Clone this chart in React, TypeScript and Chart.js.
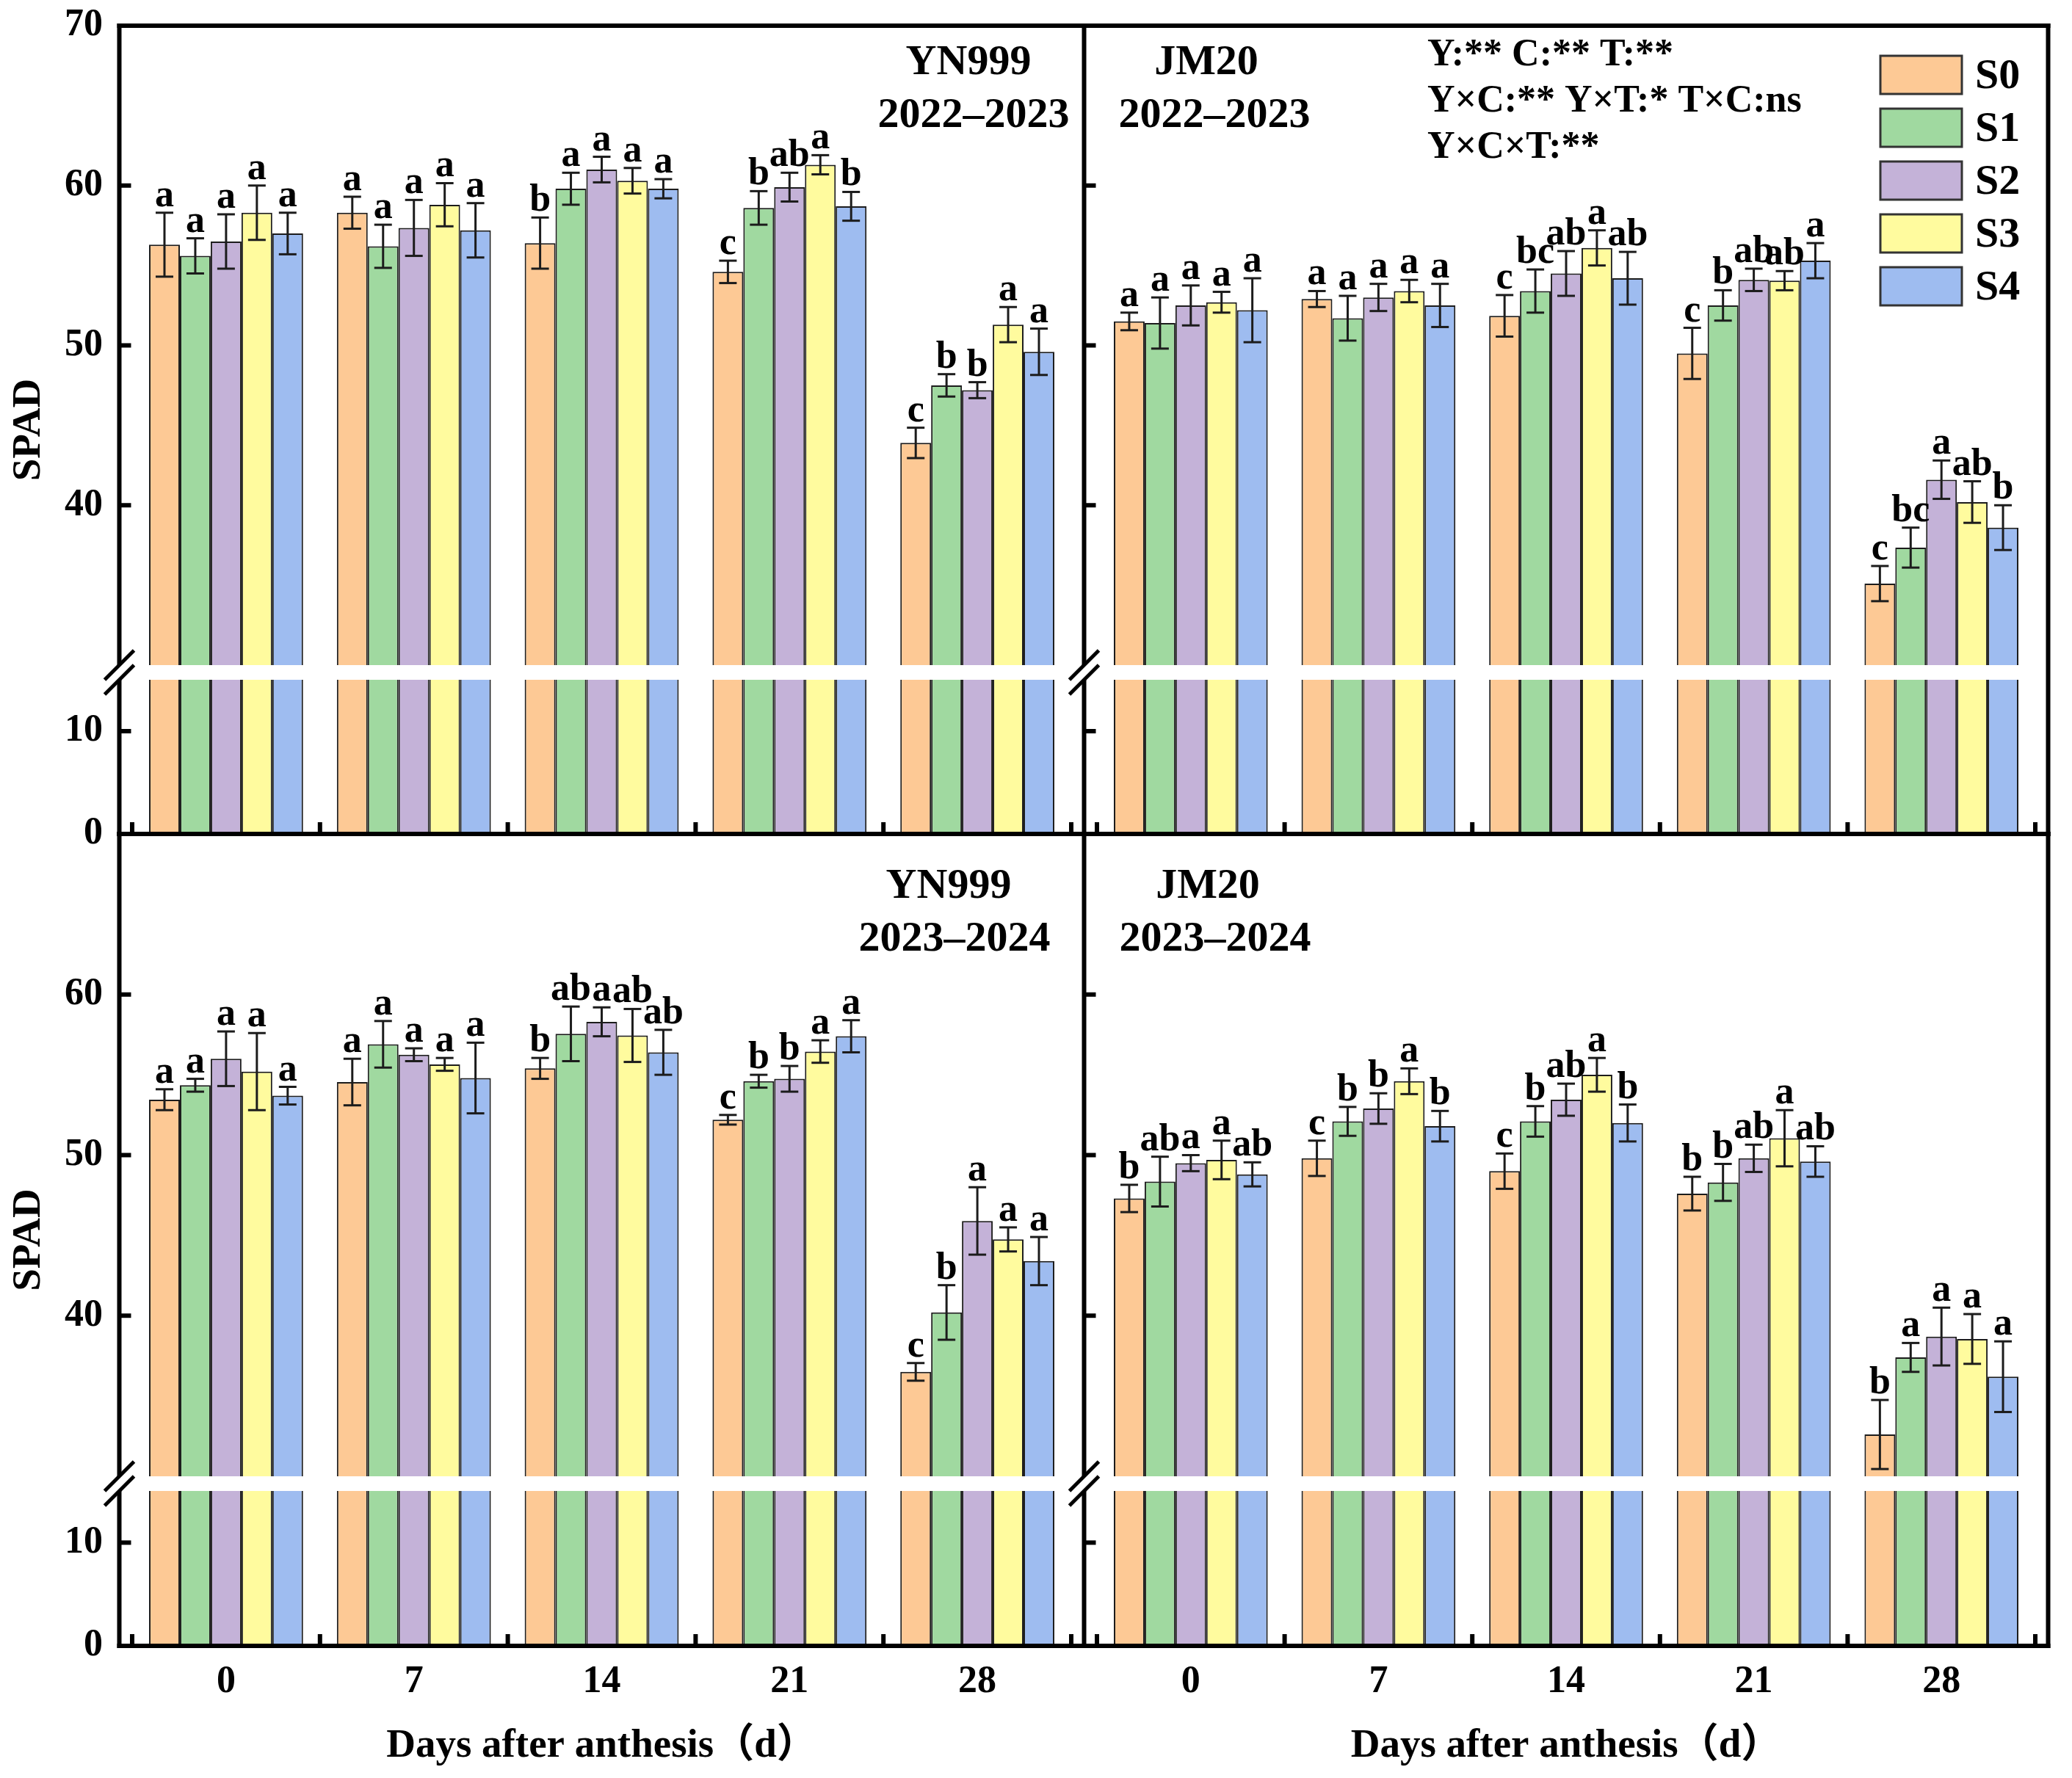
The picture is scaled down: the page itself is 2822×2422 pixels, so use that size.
import { useEffect, useRef } from "react";
import { Chart, registerables } from "chart.js";

Chart.register(...registerables);

// ---- data ----
const DAYS = ["0", "7", "14", "21", "28"];
const SERIES = ["S0", "S1", "S2", "S3", "S4"];
const HIGH_TICKS = [40, 50, 60, 70];
const LOW_TICKS = [0, 10];

// rows = S0..S4, columns = days 0..28
const YN_2223 = [
  [56.3, 58.3, 56.4, 54.6, 43.9],
  [55.6, 56.2, 59.8, 58.6, 47.5],
  [56.5, 57.35, 61.0, 59.9, 47.2],
  [58.3, 58.8, 60.3, 61.3, 51.3],
  [57.0, 57.2, 59.8, 58.7, 49.6],
];
const YN_2223_SD = [
  [2.0, 1.0, 1.6, 0.7, 0.95],
  [1.1, 1.35, 1.0, 1.05, 0.7],
  [1.7, 1.75, 0.8, 0.9, 0.5],
  [1.7, 1.35, 0.8, 0.6, 1.1],
  [1.3, 1.7, 0.6, 0.9, 1.45],
];
const YN_2223_SIG = [
  ["a", "a", "b", "c", "c"],
  ["a", "a", "a", "b", "b"],
  ["a", "a", "a", "ab", "b"],
  ["a", "a", "a", "a", "a"],
  ["a", "a", "a", "b", "a"],
];

const JM_2223 = [
  [51.5, 52.9, 51.85, 49.5, 35.1],
  [51.4, 51.7, 53.4, 52.5, 37.35],
  [52.5, 53.0, 54.5, 54.1, 41.6],
  [52.7, 53.4, 56.1, 54.05, 40.2],
  [52.2, 52.5, 54.2, 55.3, 38.6],
];
const JM_2223_SD = [
  [0.55, 0.5, 1.3, 1.6, 1.1],
  [1.6, 1.4, 1.35, 0.95, 1.25],
  [1.25, 0.85, 1.4, 0.7, 1.2],
  [0.65, 0.7, 1.1, 0.6, 1.3],
  [2.0, 1.35, 1.65, 1.1, 1.4],
];
const JM_2223_SIG = [
  ["a", "a", "c", "c", "c"],
  ["a", "a", "bc", "b", "bc"],
  ["a", "a", "ab", "ab", "a"],
  ["a", "a", "a", "ab", "ab"],
  ["a", "a", "ab", "a", "b"],
];

const YN_2324 = [
  [53.45, 54.55, 55.4, 52.2, 36.5],
  [54.35, 56.9, 57.55, 54.6, 40.2],
  [56.0, 56.25, 58.3, 54.75, 45.9],
  [55.2, 55.65, 57.45, 56.45, 44.75],
  [53.7, 54.8, 56.4, 57.4, 43.4],
];
const YN_2324_SD = [
  [0.65, 1.45, 0.65, 0.3, 0.55],
  [0.4, 1.45, 1.7, 0.4, 1.7],
  [1.7, 0.4, 0.9, 0.8, 2.1],
  [2.4, 0.4, 1.65, 0.7, 0.75],
  [0.55, 2.2, 1.4, 1.0, 1.5],
];
const YN_2324_SIG = [
  ["a", "a", "b", "c", "c"],
  ["a", "a", "ab", "b", "b"],
  ["a", "a", "a", "b", "a"],
  ["a", "a", "ab", "a", "a"],
  ["a", "a", "ab", "a", "a"],
];

const JM_2324 = [
  [47.3, 49.8, 49.0, 47.6, 32.6],
  [48.35, 52.1, 52.1, 48.3, 37.4],
  [49.5, 52.9, 53.45, 49.8, 38.7],
  [49.7, 54.6, 55.0, 51.05, 38.55],
  [48.8, 51.8, 52.0, 49.6, 36.2],
];
const JM_2324_SD = [
  [0.85, 1.1, 1.1, 1.05, 2.15],
  [1.55, 0.9, 0.95, 1.15, 0.9],
  [0.5, 0.95, 1.0, 0.85, 1.8],
  [1.2, 0.8, 1.05, 1.75, 1.55],
  [0.75, 0.95, 1.15, 0.95, 2.2],
];
const JM_2324_SIG = [
  ["b", "c", "c", "b", "b"],
  ["ab", "b", "b", "b", "a"],
  ["a", "b", "ab", "ab", "a"],
  ["a", "a", "a", "a", "a"],
  ["ab", "b", "b", "ab", "a"],
];

const STATS = ["Y:** C:** T:**", "Y×C:** Y×T:* T×C:ns", "Y×C×T:**"];

// ---- styling ----
const COLORS = ["#FDC995", "#A0D9A0", "#C4B2D8", "#FFFB9E", "#9EBCF0"];
const EDGE = "#1c1c1c";
const SERIF = '"Liberation Serif", "Times New Roman", "Noto Sans CJK SC", serif';
const HIGH_MIN = 30;
const HIGH_MAX = 70;
const LOW_MAX = 15;
const UPPER_PX = 871;
const GAP_PX = 20;
const LOWER_PX = 210;
const LOW_AXIS_MAX = (LOW_MAX * (LOWER_PX + GAP_PX)) / LOWER_PX;
const OUT = 17.5; // frame sits a little outside the category span

const PANELS = [
  {
    mean: YN_2223, sd: YN_2223_SD, sig: YN_2223_SIG, name: "YN999", season: "2022–2023",
    x: 0, y: 0, w: 1490, h: 1180, pad: { left: 20, right: 31, top: 35, bottom: 44 },
    leftCol: true, bottomRow: false, showTop: true, nameAt: [1319, 86], seasonAt: [1326, 158],
  },
  {
    mean: JM_2223, sd: JM_2223_SD, sig: JM_2223_SIG, name: "JM20", season: "2022–2023",
    x: 1440, y: 0, w: 1382, h: 1180, pad: { left: 54, right: 50, top: 35, bottom: 44 },
    leftCol: false, bottomRow: false, showTop: false, nameAt: [1643, 86], seasonAt: [1654, 158],
    legend: true,
  },
  {
    mean: YN_2324, sd: YN_2324_SD, sig: YN_2324_SIG, name: "YN999", season: "2023–2024",
    x: 0, y: 1100, w: 1490, h: 1322, pad: { left: 20, right: 31, top: 36, bottom: 10 },
    leftCol: true, bottomRow: true, showTop: false, nameAt: [1292, 1208], seasonAt: [1300, 1280],
  },
  {
    mean: JM_2324, sd: JM_2324_SD, sig: JM_2324_SIG, name: "JM20", season: "2023–2024",
    x: 1440, y: 1100, w: 1382, h: 1322, pad: { left: 54, right: 50, top: 36, bottom: 10 },
    leftCol: false, bottomRow: true, showTop: false, nameAt: [1645, 1208], seasonAt: [1655, 1280],
  },
];

function seg(ctx: CanvasRenderingContext2D, x1: number, y1: number, x2: number, y2: number) {
  ctx.beginPath();
  ctx.moveTo(x1, y1);
  ctx.lineTo(x2, y2);
  ctx.stroke();
}

function decorPlugin(p: any) {
  return {
    id: "decor",
    afterDatasetsDraw(chart: any) {
      const ctx = chart.ctx;
      const yHigh = chart.scales.yHigh;
      ctx.save();
      ctx.strokeStyle = EDGE;
      ctx.fillStyle = "#000";
      ctx.lineWidth = 3;
      ctx.font = `bold 52px ${SERIF}`;
      ctx.textAlign = "center";
      ctx.textBaseline = "alphabetic";
      SERIES.forEach((_, i) => {
        const meta = chart.getDatasetMeta(i * 2);
        meta.data.forEach((bar: any, j: number) => {
          const v = p.mean[i][j];
          const e = p.sd[i][j];
          const yt = yHigh.getPixelForValue(v + e);
          const yb = yHigh.getPixelForValue(v - e);
          seg(ctx, bar.x, yt, bar.x, yb);
          seg(ctx, bar.x - 12, yt, bar.x + 12, yt);
          seg(ctx, bar.x - 12, yb, bar.x + 12, yb);
          ctx.fillText(p.sig[i][j], bar.x, yt - 9);
        });
      });
      ctx.restore();
    },
    afterDraw(chart: any) {
      const ctx = chart.ctx;
      const { left, right, top, bottom } = chart.chartArea;
      const { x, yHigh, yLow } = chart.scales;
      const L = left - OUT;
      const R = right + OUT;
      const gapTop = yHigh.getPixelForValue(HIGH_MIN);
      const gapBot = yLow.getPixelForValue(LOW_MAX);
      ctx.save();
      ctx.strokeStyle = "#000";
      ctx.lineWidth = 6;
      ctx.lineCap = "butt";
      seg(ctx, L - 3, top, R + 3, top);
      seg(ctx, L - 3, bottom, R + 3, bottom);
      seg(ctx, L, top - 3, L, gapTop);
      seg(ctx, L, gapBot, L, bottom + 3);
      if (!p.leftCol) seg(ctx, R, top - 3, R, bottom + 3);
      // axis break marks
      ctx.lineWidth = 5;
      [gapTop, gapBot].forEach((gy) => seg(ctx, L - 20, gy + 20, L + 20, gy - 20));
      // inward ticks
      ctx.lineWidth = 6;
      HIGH_TICKS.forEach((v) => {
        const ty = yHigh.getPixelForValue(v);
        seg(ctx, L, ty, L + 16, ty);
      });
      LOW_TICKS.forEach((v) => {
        const ty = yLow.getPixelForValue(v);
        seg(ctx, L, ty, L + 16, ty);
      });
      for (let k = 0; k <= DAYS.length; k++) {
        const tx = x.getPixelForValue(k - 0.5);
        seg(ctx, tx, bottom, tx, bottom - 16);
      }

      ctx.fillStyle = "#000";
      ctx.textBaseline = "middle";
      if (p.leftCol) {
        ctx.save();
        ctx.translate(40 - p.x, (top + bottom) / 2);
        ctx.rotate(-Math.PI / 2);
        ctx.textAlign = "center";
        ctx.font = `bold 55px ${SERIF}`;
        ctx.fillText("SPAD", 0, 0);
        ctx.restore();
      }
      ctx.textAlign = "center";
      ctx.font = `bold 58px ${SERIF}`;
      ctx.fillText(p.name, p.nameAt[0] - p.x, p.nameAt[1] - p.y);
      ctx.fillText(p.season, p.seasonAt[0] - p.x, p.seasonAt[1] - p.y);

      if (p.legend) {
        ctx.textAlign = "left";
        ctx.font = `bold 52px ${SERIF}`;
        STATS.forEach((s, i) => ctx.fillText(s, 1944 - p.x, 76 + i * 63 - p.y));
        ctx.font = `bold 58px ${SERIF}`;
        SERIES.forEach((s, i) => {
          const cy = 102 + i * 72 - p.y;
          ctx.fillStyle = COLORS[i];
          ctx.fillRect(2561 - p.x, cy - 26, 111, 52);
          ctx.strokeStyle = "#333";
          ctx.lineWidth = 3;
          ctx.strokeRect(2561 - p.x, cy - 26, 111, 52);
          ctx.fillStyle = "#000";
          ctx.fillText(s, 2690 - p.x, cy + 3);
        });
      }
      ctx.restore();
    },
  };
}

function fixWidth(w: number) {
  return (s: any) => {
    s.width = w;
    s.paddingTop = 0;
    s.paddingBottom = 0;
    s.paddingLeft = 0;
    s.paddingRight = 0;
  };
}

function Panel({ p }: { p: any }) {
  const ref = useRef<HTMLCanvasElement>(null);

  useEffect(() => {
    const datasets: any[] = [];
    SERIES.forEach((s, i) => {
      datasets.push({
        label: s,
        data: p.mean[i].map((v: number) => [HIGH_MIN, v]),
        yAxisID: "yHigh",
        stack: s,
        backgroundColor: COLORS[i],
        borderColor: EDGE,
        borderWidth: { left: 2, right: 2, top: 2, bottom: 0 },
        borderSkipped: false,
      });
      datasets.push({
        label: s + " low",
        data: p.mean[i].map((v: number) => [0, Math.min(v, LOW_MAX)]),
        yAxisID: "yLow",
        stack: s,
        backgroundColor: COLORS[i],
        borderColor: EDGE,
        borderWidth: { left: 2, right: 2, top: 0, bottom: 0 },
        borderSkipped: false,
      });
    });

    const tickFont = { family: SERIF, size: 52, weight: "bold" as const };
    const yWidth = p.leftCol ? 160 : 0;

    const chart = new Chart(ref.current as HTMLCanvasElement, {
      type: "bar",
      data: { labels: DAYS, datasets },
      options: {
        animation: false,
        responsive: false,
        devicePixelRatio: 1,
        layout: { padding: p.pad },
        datasets: { bar: { categoryPercentage: 0.82, barPercentage: 1 } },
        plugins: { legend: { display: false }, tooltip: { enabled: false } },
        scales: {
          x: {
            display: p.bottomRow,
            offset: true,
            grid: { display: false, drawTicks: false },
            border: { display: false },
            ticks: { font: tickFont, color: "#000", padding: 18, maxRotation: 0, autoSkip: false },
            title: {
              display: true,
              text: "Days after anthesis（d）",
              color: "#000",
              font: { family: SERIF, size: 55, weight: "bold" },
              padding: 0,
            },
            afterFit: (s: any) => {
              s.height = p.bottomRow ? 170 : 0;
              s.paddingLeft = 0;
              s.paddingRight = 0;
              s.paddingTop = 0;
              s.paddingBottom = 0;
            },
          },
          yHigh: {
            type: "linear",
            position: "left",
            stack: "v",
            stackWeight: UPPER_PX,
            weight: 2,
            stacked: false,
            min: HIGH_MIN,
            max: HIGH_MAX,
            grid: { display: false, drawTicks: false },
            border: { display: false },
            ticks: {
              display: p.leftCol,
              autoSkip: false,
              stepSize: 10,
              padding: 40,
              color: "#000",
              font: tickFont,
              callback: (v: any) =>
                HIGH_TICKS.includes(v) && (v !== HIGH_MAX || p.showTop) ? String(v) : "",
            },
            afterFit: fixWidth(yWidth),
          },
          yLow: {
            type: "linear",
            position: "left",
            stack: "v",
            stackWeight: LOWER_PX + GAP_PX,
            weight: 1,
            stacked: false,
            min: 0,
            max: LOW_AXIS_MAX,
            grid: { display: false, drawTicks: false },
            border: { display: false },
            ticks: {
              display: p.leftCol,
              autoSkip: false,
              stepSize: 10,
              padding: 40,
              color: "#000",
              font: tickFont,
              callback: (v: any) => (LOW_TICKS.includes(v) ? String(v) : ""),
            },
            afterFit: fixWidth(yWidth),
          },
        },
      } as any,
      plugins: [decorPlugin(p)],
    });

    return () => chart.destroy();
  }, [p]);

  return (
    <canvas
      ref={ref}
      width={p.w}
      height={p.h}
      style={{ position: "absolute", left: p.x, top: p.y, width: p.w, height: p.h }}
    />
  );
}

export default function App() {
  return (
    <div style={{ position: "absolute", left: 0, top: 0, width: 2822, height: 2422, background: "#fff" }}>
      {PANELS.map((p, i) => (
        <Panel key={i} p={p} />
      ))}
    </div>
  );
}
